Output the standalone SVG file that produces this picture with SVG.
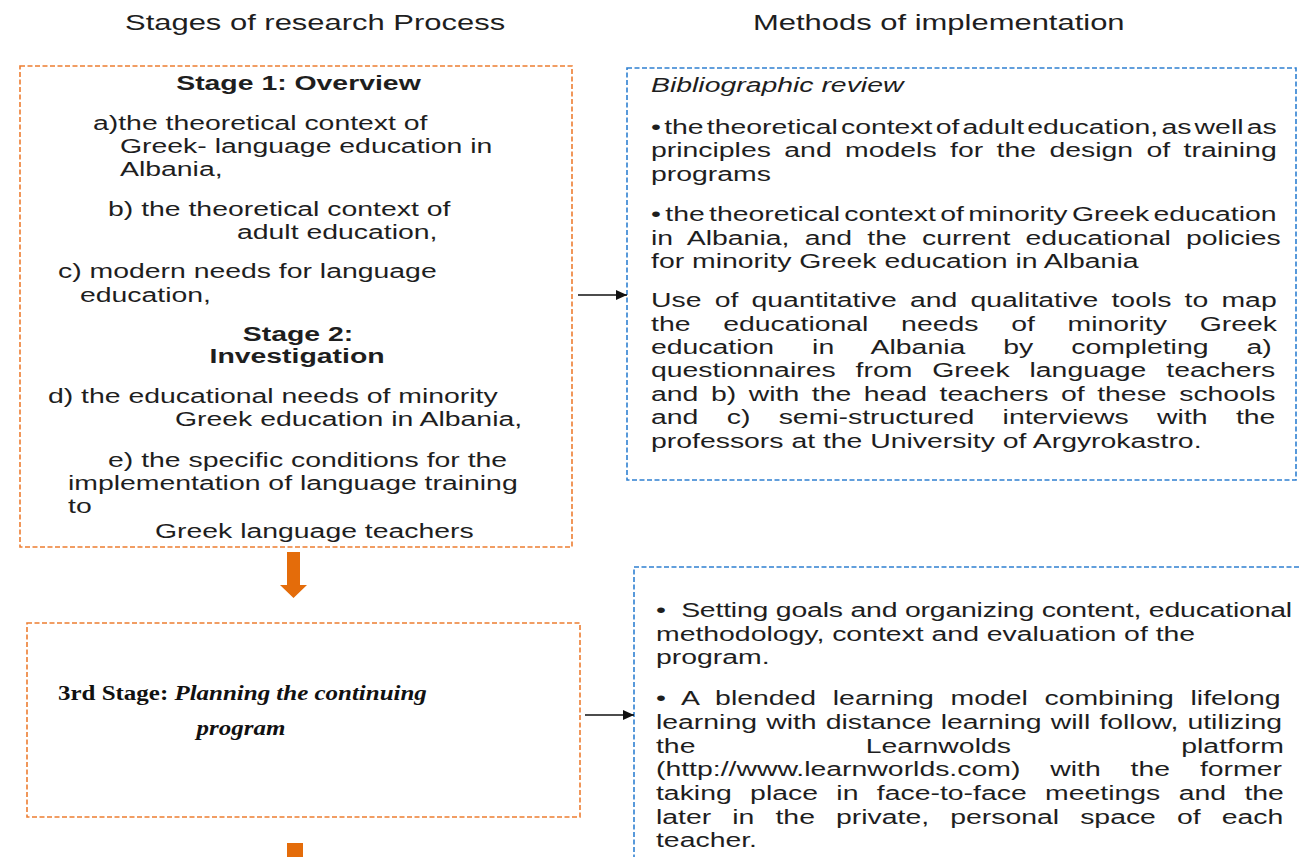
<svg xmlns="http://www.w3.org/2000/svg" width="1299" height="857" viewBox="0 0 1299 857">
<defs>
<style>
.t{font-family:"Liberation Sans",Arial,sans-serif;font-size:20px;fill:#1e1e1e}
.b{font-weight:bold}
.i{font-style:italic}
.h{font-family:"Liberation Sans",Arial,sans-serif;font-size:21.8px;fill:#1e1e1e}
.s{font-family:"Liberation Serif","Times New Roman",serif;font-size:22px;font-weight:bold;fill:#111}
.ob{fill:#fff;stroke:#ED7D31;stroke-width:1.6;stroke-dasharray:5 2.5}
.bb{fill:#fff;stroke:#2F80D1;stroke-width:1.6;stroke-dasharray:5 2.5}
.con{stroke:#111;stroke-width:1.3;fill:none}
.blk{fill:#E46C0A}
</style>
<marker id="ah" markerUnits="userSpaceOnUse" markerWidth="12" markerHeight="10" refX="11" refY="5" orient="auto">
<path d="M0,0 L11,5 L0,10 Z" fill="#111"/>
</marker>
</defs>
<rect width="1299" height="857" fill="#fff"/>

<g id="headers" transform="scale(1.42 1)">
<text class="h" x="88.03" y="30">Stages of research Process</text>
<text class="h" x="530.28" y="30">Methods of implementation</text>
</g>

<g id="stage12">
<rect class="ob" x="20" y="66" width="552" height="481"/>
<g transform="scale(1.42 1)">
<text class="t b" x="210.2" y="90" text-anchor="middle">Stage 1: Overview</text>
<text class="t" x="65.49" y="130">a)the theoretical context of</text>
<text class="t" x="84.51" y="153">Greek- language education in</text>
<text class="t" x="84.51" y="176">Albania,</text>
<text class="t" x="76.06" y="216">b) the theoretical context of</text>
<text class="t" x="166.9" y="239">adult education,</text>
<text class="t" x="40.85" y="278">c) modern needs for language</text>
<text class="t" x="56.34" y="302">education,</text>
<text class="t b" x="209.9" y="341" text-anchor="middle">Stage 2:</text>
<text class="t b" x="209.2" y="363" text-anchor="middle">Investigation</text>
<text class="t" x="33.8" y="403">d) the educational needs of minority</text>
<text class="t" x="123.24" y="426">Greek education in Albania,</text>
<text class="t" x="76.06" y="467">e) the specific conditions for the</text>
<text class="t" x="47.89" y="490">implementation of language training</text>
<text class="t" x="47.89" y="513">to</text>
<text class="t" x="109.15" y="538">Greek language teachers</text>
</g>
</g>

<g id="methods12">
<rect class="bb" x="627" y="68" width="669" height="412"/>
<g transform="scale(1.42 1)">
<text class="t i" x="458.45" y="92">Bibliographic review</text>
<text class="t" x="458.45" y="134" style="word-spacing:-3.3px">• the theoretical context of adult education, as well as</text>
<text class="t" x="458.45" y="157" style="word-spacing:3.9px">principles and models for the design of training</text>
<text class="t" x="458.45" y="181">programs</text>
<text class="t" x="458.45" y="221" style="word-spacing:-2.5px">• the theoretical context of minority Greek education</text>
<text class="t" x="458.45" y="245" style="word-spacing:5.2px">in Albania, and the current educational policies</text>
<text class="t" x="458.45" y="268">for minority Greek education in Albania</text>
<text class="t" x="458.45" y="307" style="word-spacing:3.74px">Use of quantitative and qualitative tools to map</text>
<text class="t" x="458.45" y="331" style="word-spacing:17.5px">the educational needs of minority Greek</text>
<text class="t" x="458.45" y="354" style="word-spacing:21.2px">education in Albania by completing a)</text>
<text class="t" x="458.45" y="377" style="word-spacing:8.5px">questionnaires from Greek language teachers</text>
<text class="t" x="458.45" y="401" style="word-spacing:3.3px">and b) with the head teachers of these schools</text>
<text class="t" x="458.45" y="424" style="word-spacing:14.4px">and c) semi-structured interviews with the</text>
<text class="t" x="458.45" y="448">professors at the University of Argyrokastro.</text>
</g>
</g>

<g id="stage3">
<rect class="ob" x="27" y="623" width="553" height="194"/>
<g transform="scale(1.135 1)">
<text class="s" x="51.1" y="700">3rd Stage: <tspan font-style="italic">Planning the continuing</tspan></text>
<text class="s" x="212.3" y="735" font-style="italic" text-anchor="middle">program</text>
</g>
</g>

<g id="methods3">
<rect class="bb" x="634" y="567" width="720" height="330"/>
<g transform="scale(1.42 1)">
<text class="t" x="461.97" y="617" textLength="448" lengthAdjust="spacing" xml:space="preserve">•  Setting goals and organizing content, educational</text>
<text class="t" x="461.97" y="641">methodology, context and evaluation of the</text>
<text class="t" x="461.97" y="664">program.</text>
<text class="t" x="461.97" y="705" style="word-spacing:6.2px">• A blended learning model combining lifelong</text>
<text class="t" x="461.97" y="729" style="word-spacing:0.9px">learning with distance learning will follow, utilizing</text>
<text class="t" x="461.97" y="753" style="word-spacing:114.4px">the Learnwolds platform</text>
<text class="t" x="461.97" y="776" style="word-spacing:15.5px">(http://www.learnworlds.com) with the former</text>
<text class="t" x="461.97" y="800" style="word-spacing:7.4px">taking place in face-to-face meetings and the</text>
<text class="t" x="461.97" y="824" style="word-spacing:9.3px">later in the private, personal space of each</text>
<text class="t" x="461.97" y="847">teacher.</text>
</g>
</g>

<g id="connectors">
<line class="con" x1="578" y1="295" x2="627" y2="295" marker-end="url(#ah)"/>
<line class="con" x1="585" y1="715" x2="634" y2="715" marker-end="url(#ah)"/>
<path class="blk" d="M287,552 H300 V585 H307 L293.5,598 L280,585 H287 Z"/>
<rect class="blk" x="287" y="843" width="16" height="14"/>
</g>
</svg>
